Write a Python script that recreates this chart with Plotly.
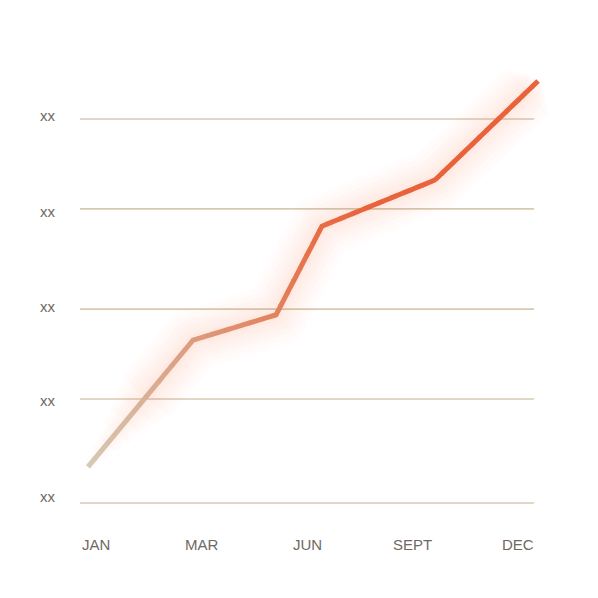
import numpy as np
import plotly.graph_objects as go

# ---------------- data ----------------
month_labels = ["JAN", "MAR", "JUN", "SEPT", "DEC"]
month_slots = [0, 1, 2, 3, 4]

series_x = [-0.076, 0.919, 1.706, 2.142, 3.213, 4.19]
series_y = [9.4, 42.4, 49.0, 72.1, 84.1, 109.9]

grid_values = [0, 27.1, 50.5, 76.6, 100]
y_label_values = [1.8, 26.6, 51.3, 76.0, 100.8]
y_labels = ["xx", "xx", "xx", "xx", "xx"]

# ---------------- style ----------------
W = H = 598
X_RANGE = [-0.834, 4.834]
Y_RANGE = [-26.82, 128.91]
GRID_X = [-0.152, 4.152]
GRID_COLOR = "#d8c9b3"
TEXT_COLOR = "#6f6963"
FONT = "Liberation Sans, Arial, sans-serif"

stops_t = [0.0, 0.23, 0.42, 0.52, 0.62, 1.0]
stops_c = [(213, 201, 182), (220, 156, 125), (226, 129, 93),
           (231, 108, 70), (232, 99, 60), (232, 98, 58)]


def color_at(t):
    return tuple(np.interp(t, stops_t, [c[i] for c in stops_c]) for i in range(3))


fig = go.Figure()

# gridlines
for gv in grid_values:
    fig.add_trace(go.Scatter(x=GRID_X, y=[gv, gv], mode="lines",
                             line=dict(color=GRID_COLOR, width=1.6),
                             hoverinfo="skip", showlegend=False))

xs = np.array(series_x, dtype=float)
ys = np.array(series_y, dtype=float)

# soft glow: stacked translucent wide strokes, fading in/out at the ends
glow_widths = [62, 52, 42, 33, 25, 18, 11]
glow_start = [0.55, 0.45, 0.36, 0.27, 0.18, 0.1, 0.0]
glow_end = [0.9, 0.925, 0.95, 0.965, 0.98, 0.99, 1.0]
for width, fs, fe in zip(glow_widths, glow_start, glow_end):
    x0 = xs[0] + fs * (xs[1] - xs[0])
    x1 = xs[-2] + fe * (xs[-1] - xs[-2])
    gx = [x0] + list(xs[1:-1]) + [x1]
    gy = [float(np.interp(x0, xs, ys))] + list(ys[1:-1]) + [float(np.interp(x1, xs, ys))]
    fig.add_trace(go.Scatter(
        x=gx, y=gy, mode="lines",
        line=dict(color="rgba(242,120,80,0.022)", width=width),
        hoverinfo="skip", showlegend=False))

# gradient line drawn in colour bands along x
N = 70
edges = np.linspace(xs[0], xs[-1], N + 1)


def band_points(xa, xb):
    px = [xa]
    py = [float(np.interp(xa, xs, ys))]
    for x, y in zip(xs, ys):
        if xa < x < xb:
            px.append(x)
            py.append(y)
    px.append(xb)
    py.append(float(np.interp(xb, xs, ys)))
    return px, py


for i in range(N):
    xa, xb = edges[i], edges[i + 1]
    t = ((xa + xb) / 2 - xs[0]) / (xs[-1] - xs[0])
    r, gc, b = color_at(t)
    px, py = band_points(max(xs[0], xa - 0.002), min(xs[-1], xb + 0.002))
    fig.add_trace(go.Scatter(
        x=px, y=py, mode="lines",
        line=dict(color=f"rgb({r:.0f},{gc:.0f},{b:.0f})", width=5),
        hoverinfo="skip", showlegend=False))

annotations = []
for yv, lab in zip(y_label_values, y_labels):
    annotations.append(dict(x=-0.455, y=yv, xref="x", yref="y", text=lab,
                            showarrow=False, xanchor="center", yanchor="middle",
                            font=dict(family=FONT, size=15, color=TEXT_COLOR)))
for xv, lab in zip(month_slots, month_labels):
    annotations.append(dict(x=xv, y=-10.9, xref="x", yref="y", text=lab,
                            showarrow=False, xanchor="center", yanchor="middle",
                            font=dict(family=FONT, size=15, color=TEXT_COLOR)))

fig.update_layout(
    width=W, height=H,
    margin=dict(l=0, r=0, t=0, b=0),
    paper_bgcolor="white", plot_bgcolor="white",
    xaxis=dict(range=X_RANGE, visible=False, fixedrange=True),
    yaxis=dict(range=Y_RANGE, visible=False, fixedrange=True),
    annotations=annotations,
    showlegend=False,
)

fig.write_html("out.html")
